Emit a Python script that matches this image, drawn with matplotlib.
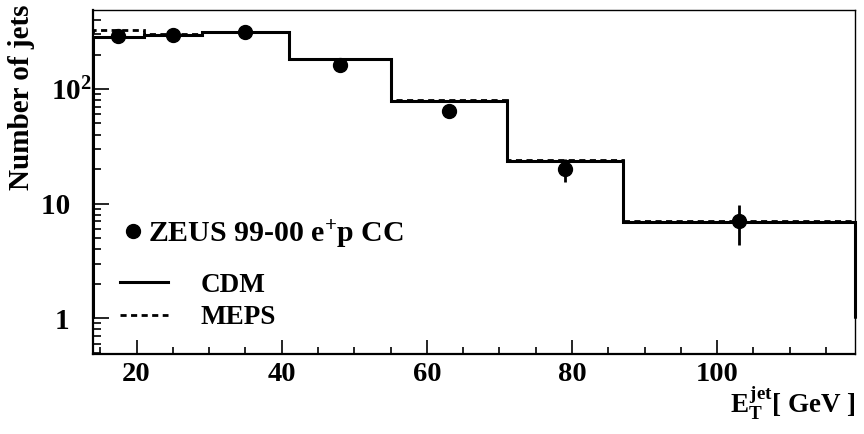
import numpy as np
import matplotlib
matplotlib.use("Agg")
import matplotlib.pyplot as plt
from matplotlib.lines import Line2D
from matplotlib.ticker import FixedLocator, MultipleLocator, LogLocator, NullFormatter

plt.rcParams['font.family'] = ['Liberation Serif', 'DejaVu Serif']
plt.rcParams['font.weight'] = 'bold'
plt.rcParams['mathtext.fontset'] = 'custom'
plt.rcParams['mathtext.rm'] = 'Liberation Serif:bold'
plt.rcParams['mathtext.it'] = 'Liberation Serif:bold'
plt.rcParams['mathtext.bf'] = 'Liberation Serif:bold'

# ---- data ----
bin_edges = [14, 21, 29, 41, 55, 71, 87, 119]
cdm_values = [286, 294, 313, 182, 78.5, 23.7, 6.92]
meps_values = [327, 300, 313, 184, 79.5, 24.0, 7.1]
data_x = [17.5, 25, 35, 48, 63, 79, 103]
data_y = [292, 296, 313, 161, 64, 20, 7.0]
data_err = [17, 17, 18, 13, 8, 4.5, 2.65]
xtick_values = [20, 40, 60, 80, 100]
xtick_labels = ['20', '40', '60', '80', '100']
ytick_values = [1, 10, 100]
ytick_labels = ['1   ', '10   ', r'$10^{2}$']

fig = plt.figure(figsize=(8.64, 4.34), dpi=100)
ax = fig.add_axes([93/864, 1-354/434, (855-93)/864, (354-9.5)/434])

ax.stairs(cdm_values, bin_edges, baseline=1, color='black', lw=2.2,
          linestyle='-', clip_on=False, zorder=3)
ax.stairs(meps_values, bin_edges, baseline=1, color='black', lw=2.0,
          linestyle=(0, (2.2, 1.6)), clip_on=False, zorder=3)
ax.errorbar(data_x, data_y, yerr=data_err, fmt='o', color='black',
            markersize=10, elinewidth=2, capsize=0, zorder=4)

ax.set_yscale('log')
ax.set_xlim(14, 119)
ax.set_ylim(0.487, 494)

ax.xaxis.set_major_locator(FixedLocator(xtick_values))
ax.set_xticklabels(xtick_labels)
ax.xaxis.set_minor_locator(MultipleLocator(5))
ax.yaxis.set_major_locator(FixedLocator(ytick_values))
ax.set_yticklabels(ytick_labels)
ax.yaxis.set_minor_locator(LogLocator(base=10, subs=np.arange(2, 10)))
ax.yaxis.set_minor_formatter(NullFormatter())

ax.tick_params(axis='x', which='major', direction='in', length=10, width=1.2,
               labelsize=20.5, pad=6, top=False)
ax.tick_params(axis='x', which='minor', direction='in', length=5, width=1.2, top=False)
ax.tick_params(axis='y', which='major', direction='in', length=11.5, width=1.2,
               labelsize=21, pad=1, right=False)
ax.tick_params(axis='y', which='minor', direction='in', length=6, width=1.2, right=False)

for s in ['left', 'bottom']:
    ax.spines[s].set_linewidth(1.6)
for s in ['top', 'right']:
    ax.spines[s].set_linewidth(1.0)

fig.text(22/864, 1-5/434, 'Number of jets', rotation=90, ha='center', va='top',
         fontsize=21, fontweight='bold')
fig.text(856/864, 1-413/434, r'$E_{T}^{jet}$[ GeV ]', ha='right', va='baseline',
         fontsize=19.5, fontweight='bold')

h1 = Line2D([], [], marker='o', color='black', linestyle='none', markersize=10)
leg1 = fig.legend([h1], ['ZEUS 99-00 e$^{+}$p CC'], loc='center left',
                  bbox_to_anchor=(124/864, 1-234/434), frameon=False,
                  fontsize=21.5, handlelength=0.6, handletextpad=0.22,
                  borderpad=0, borderaxespad=0)
h2 = Line2D([], [], color='black', lw=2.2)
h3 = Line2D([], [], color='black', lw=2.0, linestyle=(0, (2.2, 1.6)))
leg2 = fig.legend([h2, h3], ['CDM', 'MEPS'], loc='center left',
                  bbox_to_anchor=(120/864, 1-301.5/434), frameon=False,
                  fontsize=19.5, handlelength=1.78, handletextpad=1.18,
                  labelspacing=0.29, borderpad=0, borderaxespad=0)

fig.savefig('out.png', dpi=100)
